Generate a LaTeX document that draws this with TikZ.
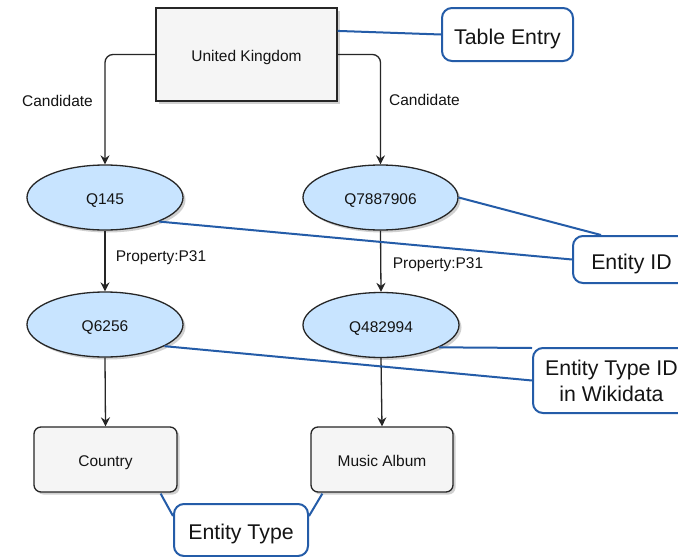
\documentclass[tikz,border=0pt]{standalone}
\usepackage{fontspec}
\setmainfont{Liberation Sans}
\usetikzlibrary{shapes.geometric,arrows.meta,shadows,calc}
\definecolor{ellfill}{RGB}{200,228,255}
\definecolor{boxfill}{RGB}{245,245,245}
\definecolor{lblue}{RGB}{36,92,168}
\definecolor{txt}{RGB}{20,20,20}
\begin{document}
\begin{tikzpicture}[x=1pt,y=-1pt,
  small/.style={font=\fontsize{15.5}{18}\selectfont, text=txt},
  big/.style={font=\fontsize{21.3}{26}\selectfont, text=txt},
  capsmall/.style={text height=14pt, text depth=0pt},
  capbig/.style={text height=19pt, text depth=0pt},
  shade/.style={drop shadow={shadow xshift=2.5pt,shadow yshift=-2.5pt,opacity=0.3,fill=black!60}},
  mainbox/.style={small, capsmall, draw=black!85, line width=1.3pt, fill=boxfill, shade, inner sep=0pt},
  ent/.style={small, capsmall, ellipse, draw=black!85, line width=1.3pt, fill=ellfill, shade, inner sep=0pt, minimum width=156pt, minimum height=65pt},
  typebox/.style={mainbox, rounded corners=7pt, minimum width=143pt, minimum height=65pt},
  callout/.style={big, draw=lblue, line width=2pt, rounded corners=10pt, fill=white, inner sep=0pt, align=center},
  link/.style={draw=lblue, line width=2pt},
  arr/.style={draw=black!85, line width=1.3pt, -{Stealth[length=9pt,width=9pt,inset=3pt]}},
  lab/.style={small, inner sep=0pt}
]
\clip (0,0) rectangle (678,557);
\fill[white] (0,0) rectangle (678,557);

% main nodes
\node[mainbox, minimum width=181pt, minimum height=93pt] (uk) at (246.5,54.5) {United Kingdom};
\node[ent] (q145) at (105,197.5) {Q145};
\node[ent, minimum width=155pt] (q7) at (380.5,197.5) {Q7887906};
\node[ent] (q6256) at (105,324.5) {Q6256};
\node[ent] (q48) at (381,325) {Q482994};
\node[typebox] (country) at (105.5,459.5) {Country};
\node[typebox, minimum width=142pt] (album) at (382,459.5) {Music Album};

% callouts
\node[callout, capbig, minimum width=131pt, minimum height=53pt] (te) at (507.5,34.5) {Table Entry};
\node[callout, capbig, minimum width=117pt, minimum height=47pt] (eid) at (631.5,259.5) {Entity ID};
\node[callout, minimum width=157pt, minimum height=65pt] (etid) at (611.5,380.5) {Entity Type ID\\in Wikidata};
\node[callout, capbig, minimum width=134pt, minimum height=52pt] (et) at (241,530) {Entity Type};

% candidate arrows
\draw[arr, rounded corners=8pt] (uk.west) -| (q145.north);
\draw[arr, rounded corners=8pt] (uk.east) -| (q7.north);
\node[lab] (cand1) at (57.5,101) {Candidate};
\node[lab] (cand2) at (424.5,100) {Candidate};

% property arrows
\draw[arr] (q145.south) -- (q6256.north);
\draw[arr] (q7.south) -- (q48.north);
\node[lab] (p1) at (161,258) {Property:P31};
\node[lab] (p2) at (438,265) {Property:P31};

% type arrows
\draw[arr] (q6256.south) -- (country.north);
\draw[arr] (q48.south) -- (album.north);

% blue links
\draw[link] ($(uk.north east)!0.25!(uk.south east)$) -- (te.west);
\draw[link] (q145.-24) -- (eid.west);
\draw[link] (q7.east) -- ($(eid.north west)+(29,0)$);
\draw[link] (q6256.-20) -- (etid.west);
\draw[link] (q48.-21) -- ($(etid.north west)+(0,1)$);
\draw[link] ($(country.south east)+(-17,1)$) -- ($(et.north west)+(0,13)$);
\draw[link] ($(album.south west)+(12,1)$) -- ($(et.north east)+(0,13)$);
\end{tikzpicture}
\end{document}
